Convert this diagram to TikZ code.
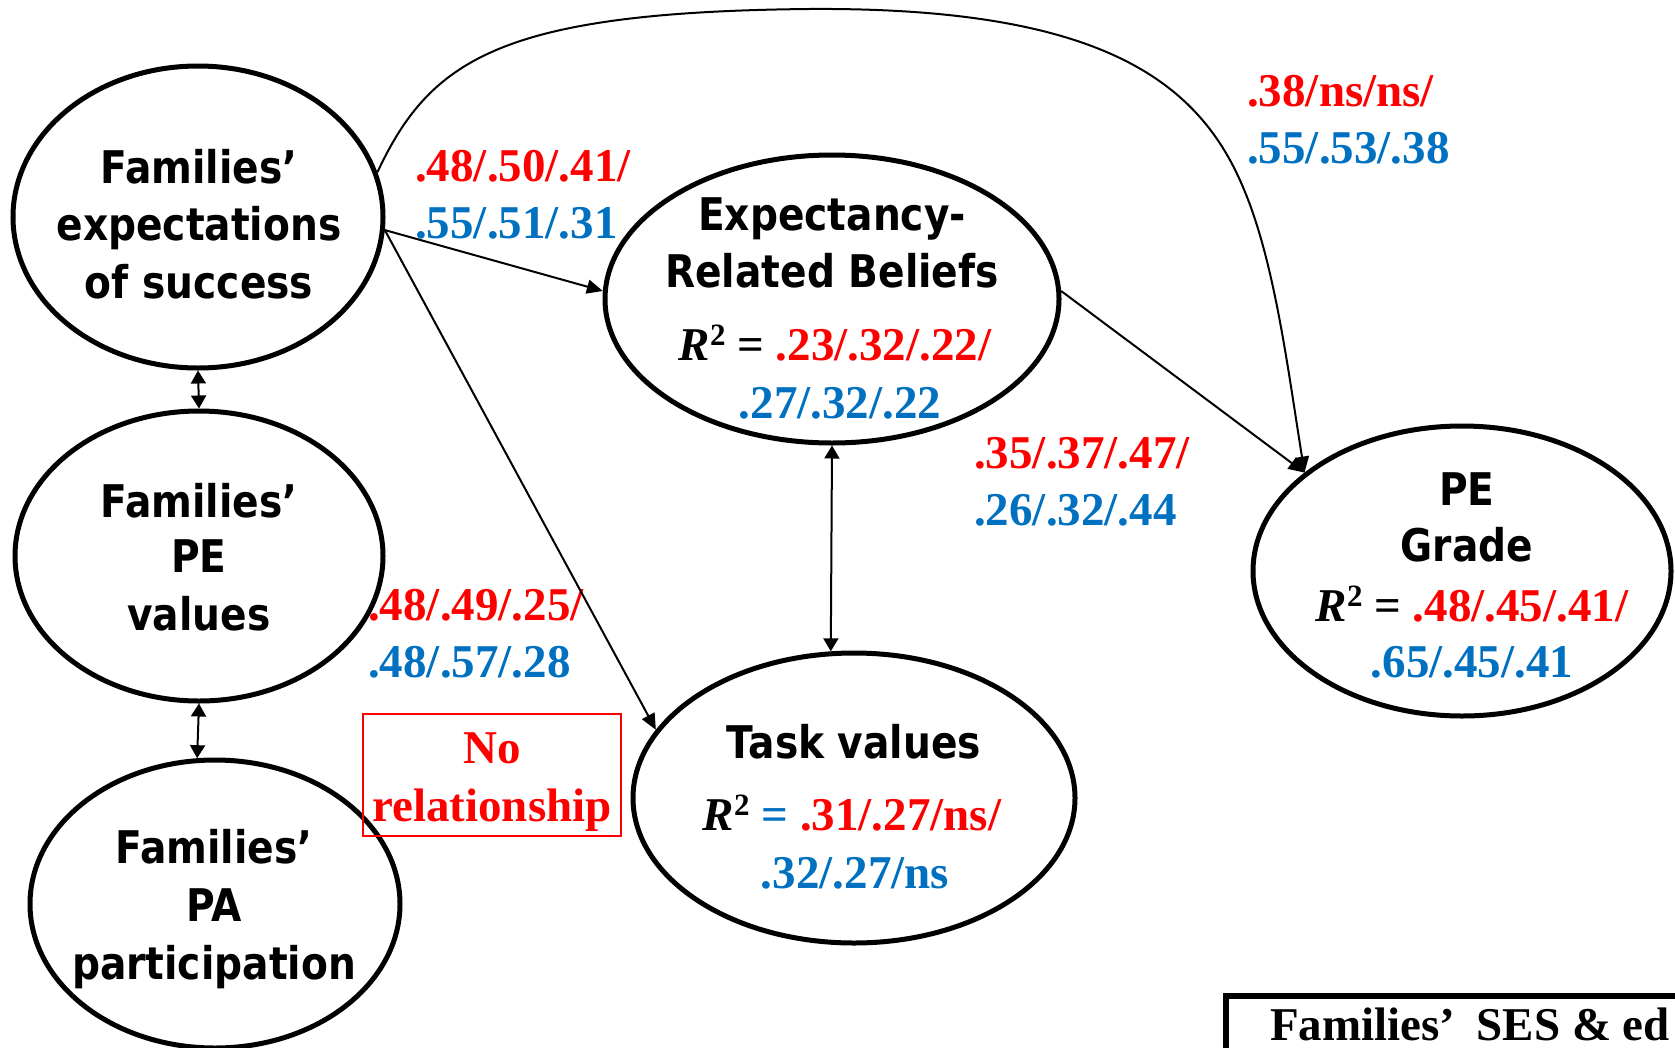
\documentclass[tikz,border=0pt]{standalone}
\usepackage{fontspec}
\setmainfont{Liberation Serif}
\newfontfamily\sansf[FakeStretch=0.87]{DejaVu Sans}
\usetikzlibrary{shapes.geometric,arrows.meta}
\definecolor{myred}{RGB}{255,0,0}
\definecolor{myblue}{RGB}{0,112,192}
\newcommand{\rsq}{\textit{R}\raisebox{0.3em}{\fontsize{31}{31}\selectfont 2}}
\begin{document}
\begin{tikzpicture}[x=1pt,y=-1pt,
  ell/.style={ellipse, draw, line width=5pt, inner sep=0pt},
  txt/.style={inner sep=0pt, anchor=base, font=\sansf\bfseries\fontsize{45}{57}\selectfont},
  num/.style={inner sep=0pt, font=\bfseries\fontsize{47}{57}\selectfont},
  conn/.style={line width=2pt, -{Triangle[length=16pt,width=14pt]}},
  dbl/.style={line width=2pt, {Triangle[length=13pt,width=15pt]}-{Triangle[length=13pt,width=15pt]}}]
\useasboundingbox (0,0) rectangle (1675,1047);
\clip (0,0) rectangle (1675,1047);
\fill[white] (0,0) rectangle (1675,1047);

% ellipses
\node[ell, minimum width=370pt, minimum height=302pt] (exp) at (198,217) {};
\node[ell, minimum width=368pt, minimum height=290pt] (pev) at (199,556) {};
\node[ell, minimum width=370pt, minimum height=288pt] (pa) at (215,904) {};
\node[ell, minimum width=454pt, minimum height=288pt] (erb) at (832,299) {};
\node[ell, minimum width=442pt, minimum height=290pt] (task) at (854,798) {};
\node[ell, minimum width=418pt, minimum height=290pt] (grade) at (1462,571) {};

% texts in ellipses
\node[txt] (t1a) at (199,183) {Families’};
\node[txt] (t1b) at (199,240) {expectations};
\node[txt] (t1c) at (199,298) {of success};

\node[txt] (t2a) at (199,517) {Families’};
\node[txt] (t2b) at (199,572) {PE};
\node[txt] (t2c) at (199,630) {values};

\node[txt] (t3a) at (214,863) {Families’};
\node[txt] (t3b) at (214,921) {PA};
\node[txt] (t3c) at (214,979) {participation};

\node[txt] (t4a) at (832,230) {Expectancy-};
\node[txt] (t4b) at (832,287) {Related Beliefs};
\node[num, anchor=base] (t4c) at (835,360) {\rsq{} = \textcolor{myred}{.23/.32/.22/}};
\node[num, anchor=base, text=myblue] (t4d) at (840,418) {.27/.32/.22};

\node[txt] (t5a) at (854,758) {Task values};
\node[num, anchor=base] (t5b) at (852,830) {\rsq{} \textcolor{myblue}{=} \textcolor{myred}{.31/.27/ns/}};
\node[num, anchor=base, text=myblue] (t5c) at (855,888) {.32/.27/ns};

\node[txt] (t6a) at (1467,505) {PE};
\node[txt] (t6b) at (1467,561) {Grade};
\node[num, anchor=base] (t6c) at (1472,621) {\rsq{} = \textcolor{myred}{.48/.45/.41/}};
\node[num, anchor=base, text=myblue] (t6d) at (1472,677) {.65/.45/.41};

% path labels
\node[num, anchor=base west, text=myred] (l1a) at (415,181) {.48/.50/.41/};
\node[num, anchor=base west, text=myblue] (l1b) at (415,238) {.55/.51/.31};
\node[num, anchor=base west, text=myred] (l2a) at (1247,106) {.38/ns/ns/};
\node[num, anchor=base west, text=myblue] (l2b) at (1247,163) {.55/.53/.38};
\node[num, anchor=base west, text=myred] (l3a) at (974,468) {.35/.37/.47/};
\node[num, anchor=base west, text=myblue] (l3b) at (974,525) {.26/.32/.44};
\node[num, anchor=base west, text=myred] (l4a) at (368,620) {.48/.49/.25/};
\node[num, anchor=base west, text=myblue] (l4b) at (368,677) {.48/.57/.28};

% no relationship box
\node[draw=myred, line width=1.8pt, minimum width=258pt, minimum height=122pt, inner sep=0pt] (nr) at (492,775) {};
\node[num, anchor=base, text=myred] (nr1) at (492,763) {No};
\node[num, anchor=base, text=myred] (nr2) at (492,821) {relationship};

% SES box
\node[draw, line width=6pt, anchor=north west, minimum width=520pt, minimum height=130pt, inner sep=0pt, outer sep=0pt] (ses) at (1226,996) {};
\node[num, anchor=base west] (sest) at (1270,1040) {Families’\hspace{0.45em}SES \& ed};

% connectors
\draw[conn] (exp.-4) -- (erb.178);
\draw[conn] (exp.-4) -- (task.161);
\draw[conn] (erb.2) -- (grade.148);
\draw[conn] (exp.14) .. controls (430,60) and (500,12) .. (809,9)
  .. controls (1100,7) and (1200,80) .. (1245,192)
  .. controls (1275,265) and (1288,370) .. (grade.148);
\draw[dbl] (exp.south) -- (pev.north);
\draw[dbl] (pev.south) -- (pa.97);
\draw[dbl] (erb.south) -- (task.99);
\end{tikzpicture}
\end{document}
